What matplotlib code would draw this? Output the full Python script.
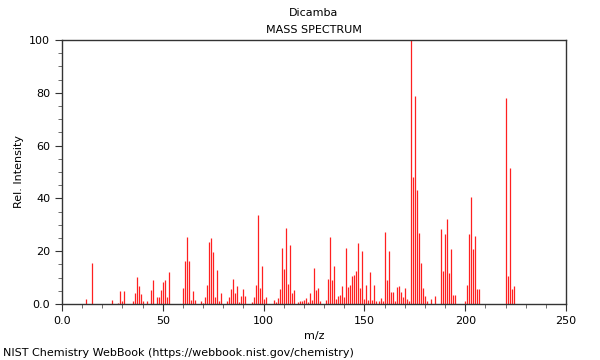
import numpy as np
import matplotlib
matplotlib.use("Agg")
import matplotlib.pyplot as plt
from matplotlib.ticker import MultipleLocator, FixedLocator

title = "Dicamba"
subtitle = "MASS SPECTRUM"
footer = "NIST Chemistry WebBook (https://webbook.nist.gov/chemistry)"

# m/z and relative intensity
mz = [12, 15, 25, 28, 29, 30, 31,
      35, 36, 37, 38, 39, 40, 42, 44, 45, 47, 48, 49, 50, 51, 52, 53,
      60, 61, 62, 63, 64, 65, 66, 69, 70, 71, 72, 73, 74, 75, 76, 77, 78, 79,
      82, 83, 84, 85, 86, 87, 88, 89, 90, 91, 94, 95, 96, 97, 98, 99, 100, 101,
      105, 106, 107, 108, 109, 110, 111, 112, 113, 114, 115,
      117, 118, 119, 120, 121, 122, 123, 124, 125, 126, 127, 128,
      131, 132, 133, 134, 135, 136, 137, 138, 139, 140,
      141, 142, 143, 144, 145, 146, 147, 148, 149, 150,
      151, 152, 153, 154, 155, 156, 157, 158, 159, 160,
      161, 162, 163, 164, 165, 166, 167, 168, 169, 170,
      171, 172, 173, 174, 175, 176, 177, 178, 179, 180, 181, 183, 185,
      188, 189, 190, 191, 192, 193, 194, 195,
      200, 201, 202, 203, 204, 205, 206, 207,
      220, 221, 222, 223, 224]
intensity = [1.8, 15.4, 1.4, 0.5, 4.9, 1.0, 4.9,
             1.0, 4.0, 10.1, 6.8, 3.7, 1.0, 1.0, 5.3, 9.0, 2.8, 2.8, 5.4, 8.5, 9.1, 2.6, 12.2,
             6.0, 16.3, 25.4, 16.3, 1.5, 4.8, 1.5, 1.0, 0.5, 2.6, 7.2, 23.5, 25.1, 19.7, 2.8, 12.7, 1.3, 4.0,
             1.3, 2.5, 5.7, 9.5, 4.2, 6.8, 0.9, 3.0, 5.5, 3.0, 0.9, 2.5, 7.2, 33.7, 6.0, 14.5, 2.0, 2.5,
             1.6, 0.8, 2.3, 5.7, 21.3, 13.3, 28.7, 7.4, 22.3, 4.0, 5.3,
             0.8, 1.0, 1.3, 1.6, 2.4, 0.7, 4.0, 1.6, 13.6, 5.3, 6.0, 1.3,
             1.6, 9.6, 25.2, 9.1, 14.4, 2.0, 3.0, 3.3, 7.0, 2.5,
             21.3, 6.6, 7.2, 10.6, 11.1, 12.5, 23.1, 6.0, 20.0, 2.0,
             7.2, 1.7, 12.0, 1.6, 7.2, 1.0, 1.0, 2.4, 1.0, 27.3,
             9.0, 20.2, 4.7, 4.7, 1.0, 6.3, 6.9, 4.4, 2.8, 6.0,
             2.0, 1.0, 100.0, 48.2, 78.9, 43.2, 27.0, 15.4, 6.2, 3.2, 1.3, 2.0, 3.0,
             28.4, 12.6, 26.6, 32.2, 11.9, 20.8, 3.4, 3.4,
             1.0, 7.3, 26.5, 40.7, 21.0, 25.8, 5.6, 5.7,
             77.9, 10.6, 51.4, 5.7, 6.8]

fig = plt.figure(figsize=(6, 3.6), dpi=100)
ax = fig.add_axes([62 / 600, 1 - 304 / 360, 504 / 600, 264 / 360])

ax.vlines(mz, 0, intensity, colors="#ff2020", linewidth=0.9)

ax.set_xlim(0, 250)
ax.set_ylim(0, 100)
ax.xaxis.set_major_locator(FixedLocator([0, 50, 100, 150, 200, 250]))
ax.xaxis.set_minor_locator(MultipleLocator(10))
ax.yaxis.set_major_locator(FixedLocator([0, 20, 40, 60, 80, 100]))
ax.yaxis.set_minor_locator(MultipleLocator(5))
ax.set_xticklabels(["0.0", "50", "100", "150", "200", "250"])
ax.set_yticklabels(["0.0", "20", "40", "60", "80", "100"])
ax.tick_params(which="major", length=5, labelsize=8, color="#333333")
ax.tick_params(which="minor", length=3, color="#555555")
for s in ax.spines.values():
    s.set_color("#333333")
    s.set_linewidth(1.0)

ax.set_xlabel("m/z", fontsize=8)
ax.set_ylabel("Rel. Intensity", fontsize=8)

fig.text(314 / 600, 1 - 13 / 360, title, ha="center", va="center", fontsize=8)
fig.text(314 / 600, 1 - 30 / 360, subtitle, ha="center", va="center", fontsize=8)
fig.text(3 / 600, 1 - 353 / 360, footer, ha="left", va="center", fontsize=8)

fig.savefig("out.png", dpi=100)
